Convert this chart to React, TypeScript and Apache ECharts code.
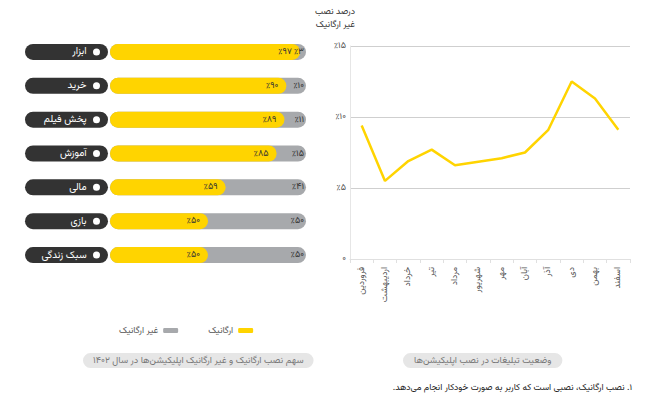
import React, { useEffect, useRef } from "react";
import * as echarts from "echarts";

const categories = ["ابزار", "خرید", "پخش فیلم", "آموزش", "مالی", "بازی", "سبک زندگی"];
const organic = [97, 90, 89, 85, 59, 50, 50];
const nonOrganic = [3, 10, 11, 15, 41, 50, 50];

const months = ["فروردین", "اردیبهشت", "خرداد", "تیر", "مرداد", "شهریور", "مهر", "آبان", "آذر", "دی", "بهمن", "اسفند"];
const nonOrganicShare = [9.4, 5.5, 6.9, 7.7, 6.6, 6.85, 7.1, 7.5, 9.1, 12.5, 11.3, 9.1];
const yTicks = [0, 5, 10, 15];

const FONT = "Vazirmatn, 'Noto Sans Arabic', 'DejaVu Sans', sans-serif";
const YELLOW = "#FFD400";
const GRAY = "#A7A9AC";
const DARK = "#333333";

const rtl = (s: string) => "\u202B" + s + "\u202C";
const faDigits = (s: string | number) => String(s).replace(/[0-9]/g, (d) => "۰۱۲۳۴۵۶۷۸۹"[+d]);
const pct = (v: number) => "٪" + faDigits(v);

export default function App() {
  const ref = useRef<HTMLDivElement>(null);
  useEffect(() => {
    document.body.style.margin = "0";
    const chart = echarts.init(ref.current!, undefined, { renderer: "svg" });
    const totals = organic.map((v, i) => v + nonOrganic[i]);
    const pillText = { fontSize: 9.3, color: "#777", fontWeight: "normal", fontFamily: FONT };
    chart.setOption({
      animation: false,
      textStyle: { fontFamily: FONT },
      title: [
        {
          text: rtl("سهم نصب ارگانیک و غیر ارگانیک اپلیکیشن‌ها در سال ۱۴۰۲"),
          left: 83,
          top: 353,
          backgroundColor: "#e6e6e6",
          borderRadius: 9,
          padding: [3, 10],
          textStyle: pillText,
        },
        {
          text: rtl("وضعیت تبلیغات در نصب اپلیکیشن‌ها"),
          left: 403,
          top: 353,
          backgroundColor: "#e6e6e6",
          borderRadius: 9,
          padding: [3, 11],
          textStyle: pillText,
        },
        {
          text: rtl("۱. نصب ارگانیک، نصبی است که کاربر به صورت خودکار انجام می‌دهد."),
          right: 12,
          top: 378,
          textStyle: { fontSize: 9, color: "#222", fontWeight: "normal", fontFamily: FONT },
        },
      ],
      legend: {
        data: ["غیر ارگانیک", "ارگانیک"],
        left: 114,
        top: 321,
        icon: "roundRect",
        itemWidth: 15,
        itemHeight: 5,
        align: "right",
        itemGap: 30,
        textStyle: { fontSize: 9, color: "#555", fontFamily: FONT },
      },
      grid: [
        { left: 110, width: 196, top: 35, height: 237 },
        { left: 350, right: 19, top: 46, bottom: 145 },
      ],
      xAxis: [
        { gridIndex: 0, type: "value", min: 0, max: 100, show: false },
        {
          gridIndex: 1,
          type: "category",
          data: months,
          boundaryGap: true,
          axisLine: { lineStyle: { color: "#e0e0e0" } },
          axisTick: { show: true, lineStyle: { color: "#e0e0e0" }, length: 4 },
          axisLabel: { rotate: 90, fontSize: 9, color: "#555", margin: 8, fontFamily: FONT },
        },
      ],
      yAxis: [
        {
          gridIndex: 0,
          type: "category",
          data: categories,
          inverse: true,
          axisLine: { show: false },
          axisTick: { show: false },
          axisLabel: {
            margin: 2,
            width: 70,
            height: 16,
            lineHeight: 16,
            padding: [0, 8, 0, 5],
            align: "right",
            backgroundColor: DARK,
            borderRadius: 8,
            formatter: (v: string) => `{t|${v}}  {d|}`,
            rich: {
              t: { color: "#fff", fontSize: 10, fontFamily: FONT, lineHeight: 16 },
              d: { width: 7, height: 7, borderRadius: 4, backgroundColor: "#fff" },
            },
          },
        },
        {
          gridIndex: 1,
          type: "value",
          min: 0,
          max: 15,
          interval: 5,
          name: "درصد نصب\nغیر ارگانیک",
          nameLocation: "end",
          nameGap: 15,
          nameTextStyle: { align: "right", fontSize: 9, color: "#333", lineHeight: 13, padding: [0, -5, 0, 0], fontFamily: FONT },
          axisLine: { show: true, lineStyle: { color: "#e6e6e6" } },
          axisTick: { show: false },
          splitLine: { lineStyle: { color: "#cfcfcf" } },
          axisLabel: {
            fontSize: 9,
            color: "#555",
            margin: 4,
            fontFamily: FONT,
            formatter: (v: number) => (v === 0 ? faDigits(0) : pct(v)),
          },
        },
      ],
      series: [
        {
          type: "bar",
          name: "غیر ارگانیک",
          xAxisIndex: 0,
          yAxisIndex: 0,
          data: totals,
          barWidth: 16,
          barGap: "-100%",
          itemStyle: { color: GRAY, borderRadius: 8 },
          z: 1,
        },
        {
          type: "bar",
          name: "ارگانیک",
          xAxisIndex: 0,
          yAxisIndex: 0,
          data: organic,
          barWidth: 16,
          barGap: "-100%",
          itemStyle: { color: YELLOW, borderRadius: 8 },
          label: {
            show: true,
            position: "insideRight",
            distance: 8,
            color: "#333",
            fontSize: 9,
            fontFamily: FONT,
            formatter: (p: any) => pct(p.value),
          },
          z: 2,
        },
        {
          type: "bar",
          name: "برچسب غیر ارگانیک",
          xAxisIndex: 0,
          yAxisIndex: 0,
          data: totals,
          barWidth: 16,
          barGap: "-100%",
          silent: true,
          itemStyle: { color: "rgba(0,0,0,0)" },
          label: {
            show: true,
            position: "insideRight",
            distance: 2,
            color: "#333",
            fontSize: 9,
            fontFamily: FONT,
            formatter: (p: any) => pct(nonOrganic[p.dataIndex]),
          },
          z: 3,
        },
        {
          type: "line",
          name: "نصب غیر ارگانیک",
          xAxisIndex: 1,
          yAxisIndex: 1,
          data: nonOrganicShare,
          showSymbol: false,
          symbol: "none",
          lineStyle: { color: YELLOW, width: 2.5 },
          itemStyle: { color: YELLOW },
        },
      ],
    });
    return () => chart.dispose();
  }, []);
  return <div ref={ref} style={{ width: 649, height: 404 }} />;
}
